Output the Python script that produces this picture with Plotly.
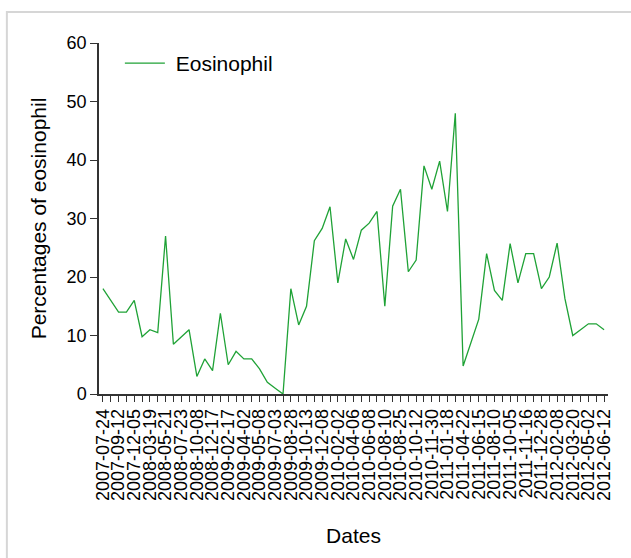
import plotly.graph_objects as go

# Tick labels shown on the x axis (every second sampling date)
date_labels = [
    "2007-07-24", "2007-09-12", "2007-12-05", "2008-03-19", "2008-05-21",
    "2008-07-23", "2008-10-08", "2008-12-17", "2009-02-17", "2009-04-02",
    "2009-05-08", "2009-07-03", "2009-08-28", "2009-10-13", "2009-12-08",
    "2010-02-02", "2010-04-06", "2010-06-08", "2010-08-10", "2010-08-25",
    "2010-10-12", "2010-11-30", "2011-01-18", "2011-04-22", "2011-06-15",
    "2011-08-10", "2011-10-05", "2011-11-16", "2011-12-28", "2012-02-08",
    "2012-03-20", "2012-05-02", "2012-06-12",
]

# Eosinophil percentages, one per sampling date (65 samples)
eosinophil = [
    18, 16, 14, 14, 16, 9.8, 11, 10.5, 27, 8.5,
    9.8, 11, 3, 6, 4, 13.8, 5, 7.3, 6, 6,
    4.3, 2, 1, 0, 18, 11.8, 15, 26.2, 28.3, 32,
    19, 26.5, 23, 28, 29.2, 31.2, 15, 32.1, 35, 20.9,
    22.9, 39, 35, 39.8, 31.2, 48, 4.8, 8.8, 12.8, 24,
    17.7, 16, 25.7, 19, 24, 24, 18, 20, 25.8, 16.3,
    10, 11, 12, 12, 11,
]

y_ticks = [0, 10, 20, 30, 40, 50, 60]

n = len(eosinophil)
x_idx = list(range(n))
tick_text = [date_labels[i // 2] if i % 2 == 0 else "" for i in x_idx]

FONT = "Liberation Sans, Arial, sans-serif"

fig = go.Figure()
fig.add_trace(go.Scatter(
    x=x_idx, y=eosinophil, mode="lines", name="\u00a0Eosinophil",
    line=dict(color="#1fa236", width=1.3),
))

fig.update_layout(
    width=631, height=558,
    paper_bgcolor="white", plot_bgcolor="white",
    margin=dict(l=99, r=23, t=43, b=164, autoexpand=False),
    font=dict(family=FONT, size=18, color="black"),
    showlegend=True,
    legend=dict(x=0.041, y=1.0, xanchor="left", yanchor="top",
                bgcolor="rgba(0,0,0,0)", font=dict(size=21),
                itemwidth=40),
    xaxis=dict(
        range=[-0.5, n - 0.5], tickmode="array", tickvals=x_idx,
        ticktext=tick_text, tickangle=-90, ticks="outside", ticklen=6,
        tickcolor="#333", showline=True, linecolor="#333", linewidth=1.5,
        showgrid=False, zeroline=False, tickfont=dict(size=18),
        automargin=False,
        title=dict(text="Dates", font=dict(size=21), standoff=28),
    ),
    yaxis=dict(
        range=[0, 60], tickmode="array", tickvals=y_ticks,
        ticks="outside", ticklen=7, tickcolor="#333",
        showline=True, linecolor="#333", linewidth=1.5,
        showgrid=False, zeroline=False, tickfont=dict(size=18),
        automargin=False,
        title=dict(text="Percentages of eosinophil", font=dict(size=21), standoff=14),
    ),
)

# light grey frame around the figure (top/left edges visible)
fig.add_shape(type="rect", xref="paper", yref="paper",
              x0=-0.181, y0=-0.48, x1=1.06, y1=1.088,
              line=dict(color="#d6d6d6", width=2), layer="below")

fig.write_html(
    "out.html",
    config={"displayModeBar": False},
    post_script="document.body.style.margin='0px';document.body.style.overflow='hidden';",
)
